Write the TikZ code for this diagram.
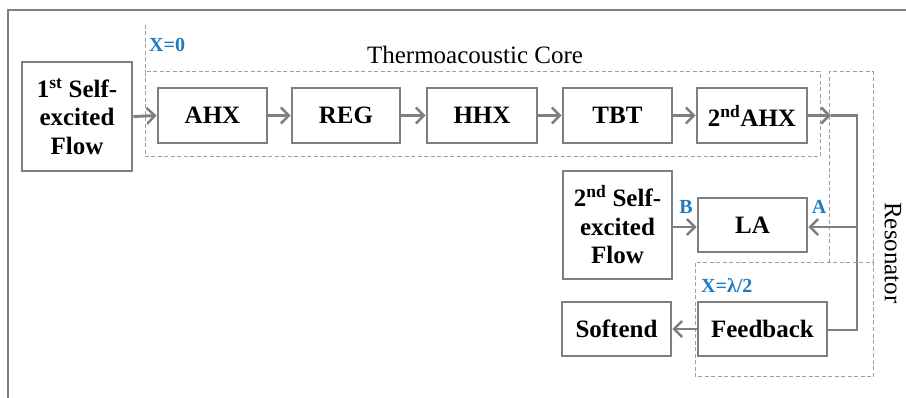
\documentclass[tikz,border=0pt]{standalone}
\usepackage{fontspec}
\setmainfont{Liberation Serif}
\usetikzlibrary{arrows.meta}
\definecolor{lgray}{HTML}{7F7F7F}
\definecolor{dgray}{HTML}{A0A0A0}
\definecolor{lblue}{HTML}{1F7BC1}
\tikzset{
  box/.style={draw=lgray, line width=2.8pt, fill=white, inner sep=0pt, align=center,
    font=\fontsize{25}{28.5}\selectfont\bfseries, text=black},
  arr/.style={draw=lgray, line width=2.9pt, -{Straight Barb[length=8pt,width=16pt,line width=2.5pt]}},
  wire/.style={draw=lgray, line width=2.9pt},
  grpline/.style={draw=dgray, line width=1pt, dash pattern=on 4pt off 2.5pt},
  bluelbl/.style={text=lblue, font=\fontsize{20}{22}\selectfont\bfseries, inner sep=0pt},
  titlelbl/.style={font=\fontsize{25}{28}\selectfont, inner sep=0pt}
}
\begin{document}
\begin{tikzpicture}[x=1pt,y=-1pt]
\useasboundingbox (0,0) rectangle (906,398);
% frame
\draw[lgray, line width=2.4pt] (906,10) -- (8,10) -- (8,398);
% dashed groups
\draw[grpline] (145,25) -- (145,72);
\draw[grpline] (145,72) rectangle (820,157);
\draw[grpline] (829,263) -- (829,72) -- (873,72) -- (873,263);
\draw[grpline] (695,263) rectangle (873,377);
% labels
\node[bluelbl, anchor=west] (x0) at (149,45) {X=0};
\node[titlelbl] (core) at (475,55) {Thermoacoustic Core};
\node[titlelbl, rotate=-90] (res) at (893,253) {Resonator};
\node[bluelbl, anchor=west] (xl) at (701,286) {X=λ/2};
\node[bluelbl] (lb) at (686,207) {B};
\node[bluelbl] (la) at (819,207) {A};
% boxes
\node[box, minimum width=110pt, minimum height=109pt] (f1) at (77,116.5) {1\textsuperscript{st} Self-\\excited\\Flow};
\node[box, minimum width=109pt, minimum height=55pt] (ahx) at (212.5,115.5) {AHX};
\node[box, minimum width=108pt, minimum height=55pt] (reg) at (346,115.5) {REG};
\node[box, minimum width=110pt, minimum height=55pt] (hhx) at (482,115.5) {HHX};
\node[box, minimum width=109pt, minimum height=55pt] (tbt) at (617.5,115.5) {TBT};
\node[box, minimum width=110pt, minimum height=55pt] (ahx2) at (752,115.5) {2\textsuperscript{nd}AHX};
\node[box, minimum width=109pt, minimum height=108pt] (f2) at (617.5,225) {2\textsuperscript{nd} Self-\\excited\\Flow};
\node[box, minimum width=109pt, minimum height=54pt] (lab) at (752.5,225) {LA};
\node[box, minimum width=109pt, minimum height=54pt] (soft) at (616.5,329) {Softend};
\node[box, minimum width=129pt, minimum height=54pt] (fb) at (762.5,329) {Feedback};
% connectors
\coordinate (j1) at (831,115.5);
\coordinate (j2) at (857,115.5);
\coordinate (j3) at (857,227);
\coordinate (j4) at (857,330);
\draw[arr] (f1.east) -- (ahx.west);
\draw[arr] (ahx.east) -- (reg.west);
\draw[arr] (reg.east) -- (hhx.west);
\draw[arr] (hhx.east) -- (tbt.west);
\draw[arr] (tbt.east) -- (ahx2.west);
\draw[arr] (ahx2.east) -- (j1);
\draw[wire] (j1) -- (j2) -- (j4) -- (fb.east |- j4);
\draw[arr] (j3) -- (lab.east |- j3);
\draw[arr] (f2.east |- j3) -- (lab.west |- j3);
\draw[arr] (fb.west) -- (soft.east);
\end{tikzpicture}
\end{document}
